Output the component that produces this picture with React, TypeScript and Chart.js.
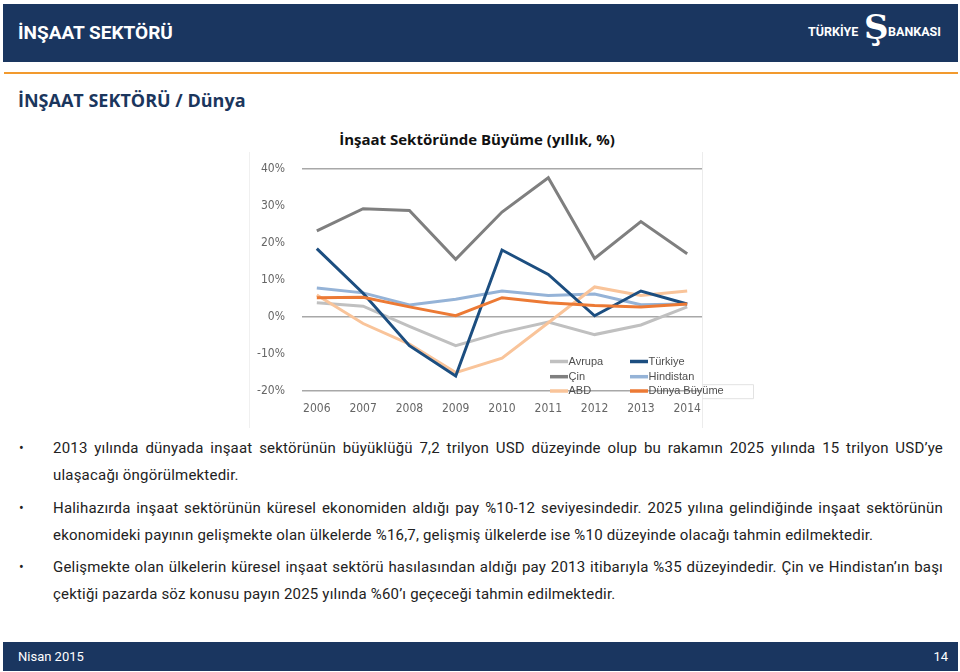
import React, { useEffect, useRef } from "react";
import { Chart, registerables } from "chart.js";

Chart.register(...registerables);

const years = [2006, 2007, 2008, 2009, 2010, 2011, 2012, 2013, 2014];
const avrupa = [3.8, 2.9, -2.6, -7.8, -4.2, -1.4, -4.8, -2.2, 2.7];
const turkiye = [18.5, 6.4, -7.8, -16.0, 18.1, 11.5, 0.3, 7.0, 3.5];
const cin = [23.3, 29.3, 28.8, 15.6, 28.4, 37.7, 15.8, 25.8, 17.1];
const hindistan = [7.8, 6.5, 3.2, 4.8, 7.0, 5.8, 6.2, 3.3, 3.5];
const abd = [5.9, -1.8, -7.4, -15.1, -11.2, -1.6, 8.1, 5.8, 7.0];
const dunya = [5.2, 5.3, 2.7, 0.3, 5.2, 3.8, 3.1, 2.7, 3.5];

const seriesNames = ["Avrupa", "Türkiye", "Çin", "Hindistan", "ABD", "Dünya Büyüme"];
const seriesValues = [avrupa, turkiye, cin, hindistan, abd, dunya];
const seriesColors = ["#c0c0c0", "#1c4e80", "#7f7f7f", "#95b3d7", "#f9c49a", "#ec7a35"];
const seriesOrder = [5, 1, 4, 3, 2, 0];

const yMin = -20;
const yMax = 40;
const yStep = 10;
const gridValues = [40, 0, -20];

const chartTitle = "İnşaat Sektöründe Büyüme (yıllık, %)";

const bullets: string[][] = [
  [
    "2013 yılında dünyada inşaat sektörünün büyüklüğü 7,2 trilyon USD düzeyinde olup bu rakamın 2025 yılında 15 trilyon USD’ye",
    "ulaşacağı öngörülmektedir.",
  ],
  [
    "Halihazırda inşaat sektörünün küresel ekonomiden aldığı pay %10-12 seviyesindedir. 2025 yılına gelindiğinde inşaat sektörünün",
    "ekonomideki payının gelişmekte olan ülkelerde %16,7, gelişmiş ülkelerde ise %10 düzeyinde olacağı tahmin edilmektedir.",
  ],
  [
    "Gelişmekte olan ülkelerin küresel inşaat sektörü hasılasından aldığı pay 2013 itibarıyla %35 düzeyindedir. Çin ve Hindistan’ın başı",
    "çektiği pazarda söz konusu payın 2025 yılında %60’ı geçeceği tahmin edilmektedir.",
  ],
];
const bulletTops = [448, 508, 567];
const lineGap = 26.5;

const NAVY = "#1a3660";

const legendPlugin = {
  id: "insetLegend",
  afterDraw(chart: any) {
    const ctx = chart.ctx;
    const ca = chart.chartArea;
    const colX = [ca.left + 248, ca.left + 328];
    const rowY = [ca.top + 192.3, ca.top + 207.5, ca.top + 221.8];
    ctx.save();
    // faint box artifact around last entry
    ctx.strokeStyle = "#e2e2e2";
    ctx.lineWidth = 1;
    ctx.beginPath();
    ctx.moveTo(ca.right + 0.5, ca.top + 215.5);
    ctx.lineTo(ca.right + 51.5, ca.top + 215.5);
    ctx.lineTo(ca.right + 51.5, ca.top + 229.5);
    ctx.lineTo(ca.right + 0.5, ca.top + 229.5);
    ctx.stroke();
    chart.data.datasets.forEach((ds: any, i: number) => {
      const cx = colX[i % 2];
      const cy = rowY[Math.floor(i / 2)];
      ctx.strokeStyle = ds.borderColor;
      ctx.lineWidth = 3.5;
      ctx.beginPath();
      ctx.moveTo(cx, cy);
      ctx.lineTo(cx + 18, cy);
      ctx.stroke();
      ctx.fillStyle = "#4f4f4f";
      ctx.font = "11px 'Liberation Sans', Arial, sans-serif";
      ctx.textBaseline = "middle";
      ctx.textAlign = "left";
      ctx.fillText(ds.label, cx + 18.5, cy);
    });
    ctx.restore();
  },
};

function LineChart() {
  const ref = useRef<HTMLCanvasElement | null>(null);
  useEffect(() => {
    if (!ref.current) return;
    const chart = new Chart(ref.current, {
      type: "line",
      data: {
        datasets: seriesNames.map((name, i) => ({
          label: name,
          data: years.map((y, j) => ({ x: y, y: seriesValues[i][j] })),
          borderColor: seriesColors[i],
          backgroundColor: seriesColors[i],
          borderWidth: 3,
          pointRadius: 0,
          tension: 0,
          order: seriesOrder[i],
        })),
      },
      options: {
        animation: false,
        responsive: false,
        maintainAspectRatio: false,
        layout: { padding: { top: 12.7, right: 58, bottom: 0, left: 0 } },
        plugins: {
          legend: { display: false },
          tooltip: { enabled: false },
          title: { display: false },
        },
        scales: {
          x: {
            type: "linear",
            min: years[0] - 0.32,
            max: years[years.length - 1] + 0.32,
            afterBuildTicks: (s: any) => {
              s.ticks = years.map((v) => ({ value: v }));
            },
            afterFit: (s: any) => {
              s.height = 34.3;
            },
            ticks: {
              padding: 11,
              color: "#666666",
              font: { size: 12, family: "'DejaVu Sans Condensed', 'Liberation Sans Narrow', Roboto, sans-serif" },
              callback: (v: any) => String(v),
              maxRotation: 0,
              autoSkip: false,
            },
            grid: { display: false, drawTicks: false },
            border: { display: false },
          },
          y: {
            min: yMin,
            max: yMax,
            afterFit: (s: any) => {
              s.width = 58;
            },
            ticks: {
              stepSize: yStep,
              padding: 17,
              color: "#666666",
              font: { size: 12, family: "'DejaVu Sans Condensed', 'Liberation Sans Narrow', Roboto, sans-serif" },
              callback: (v: any) => v + "%",
            },
            grid: {
              drawTicks: false,
              lineWidth: 1.5,
              color: (c: any) => (gridValues.includes(c.tick?.value) ? "#a8a8a8" : "rgba(0,0,0,0)"),
            },
            border: { display: false },
          },
        },
      },
      plugins: [legendPlugin],
    });
    return () => chart.destroy();
  }, []);
  return (
    <canvas
      ref={ref}
      width={516}
      height={280}
      style={{ position: "absolute", left: 244, top: 145, width: 516, height: 280 }}
    />
  );
}

export default function App() {
  return (
    <div
      style={{
        position: "absolute",
        left: 0,
        top: 0,
        width: 960,
        height: 672,
        background: "#ffffff",
        overflow: "hidden",
        fontFamily: "Roboto, 'Noto Sans', sans-serif",
      }}
    >
      {/* header */}
      <div style={{ position: "absolute", left: 3, top: 4, width: 955, height: 58, background: NAVY }} />
      <div
        style={{
          position: "absolute",
          left: 18,
          top: 22,
          height: 22,
          lineHeight: "22px",
          color: "#fff",
          fontWeight: 700,
          fontSize: 19,
          fontFamily: "Roboto, sans-serif",
        }}
      >
        İNŞAAT SEKTÖRÜ
      </div>
      <div
        style={{
          position: "absolute",
          left: 808,
          top: 24,
          lineHeight: "16px",
          color: "#fff",
          fontWeight: 700,
          fontSize: 12.5,
          fontFamily: "Roboto, sans-serif",
        }}
      >
        TÜRKİYE
      </div>
      <div
        style={{
          position: "absolute",
          left: 864,
          top: 4,
          width: 24,
          textAlign: "center",
          lineHeight: "46px",
          color: "#fff",
          fontWeight: 700,
          fontSize: 34,
          fontFamily: "'DejaVu Serif', serif",
        }}
      >
        Ş
      </div>
      <div
        style={{
          position: "absolute",
          left: 888,
          top: 24,
          lineHeight: "16px",
          color: "#fff",
          fontWeight: 700,
          fontSize: 12.5,
          fontFamily: "Roboto, sans-serif",
        }}
      >
        BANKASI
      </div>
      {/* orange rule */}
      <div style={{ position: "absolute", left: 4, top: 72, width: 954, height: 2, background: "#f29a2e" }} />
      {/* subtitle */}
      <div
        style={{
          position: "absolute",
          left: 18,
          top: 88,
          lineHeight: "24px",
          color: "#1b365d",
          fontWeight: 700,
          fontSize: 18,
          fontFamily: "'Open Sans', Lato, sans-serif",
        }}
      >
        İNŞAAT SEKTÖRÜ / Dünya
      </div>
      {/* chart title */}
      <div
        style={{
          position: "absolute",
          left: 237,
          width: 480,
          top: 129,
          textAlign: "center",
          lineHeight: "20px",
          color: "#111",
          fontWeight: 700,
          fontSize: 15,
          fontFamily: "'Open Sans', Lato, sans-serif",
        }}
      >
        {chartTitle}
      </div>
      {/* faint image frame */}
      <div
        style={{
          position: "absolute",
          left: 249,
          top: 152,
          width: 452,
          height: 276,
          borderLeft: "1px solid #f0f0f0",
          borderRight: "1px solid #ececec",
        }}
      />
      <LineChart />
      {/* bullets */}
      {bullets.map((lines, bi) => (
        <React.Fragment key={bi}>
          <div
            style={{
              position: "absolute",
              left: 19,
              top: bulletTops[bi] - 10,
              lineHeight: "20px",
              fontSize: 14,
              color: "#222",
            }}
          >
            •
          </div>
          {lines.map((ln, li) => (
            <div
              key={li}
              style={{
                position: "absolute",
                left: 53,
                top: bulletTops[bi] + li * lineGap - 10,
                width: 890,
                lineHeight: "20px",
                fontSize: 15,
                letterSpacing: 0.2,
                color: "#222",
                whiteSpace: "nowrap",
                textAlign: li < lines.length - 1 ? "justify" : "left",
                textAlignLast: li < lines.length - 1 ? "justify" : "left",
              } as React.CSSProperties}
            >
              {ln}
            </div>
          ))}
        </React.Fragment>
      ))}
      {/* footer */}
      <div style={{ position: "absolute", left: 3, top: 642, width: 955, height: 29, background: NAVY }} />
      <div
        style={{
          position: "absolute",
          left: 18,
          top: 648,
          lineHeight: "18px",
          fontSize: 13,
          color: "#fff",
        }}
      >
        Nisan 2015
      </div>
      <div
        style={{
          position: "absolute",
          right: 12,
          top: 648,
          lineHeight: "18px",
          fontSize: 13,
          color: "#fff",
        }}
      >
        14
      </div>
    </div>
  );
}
